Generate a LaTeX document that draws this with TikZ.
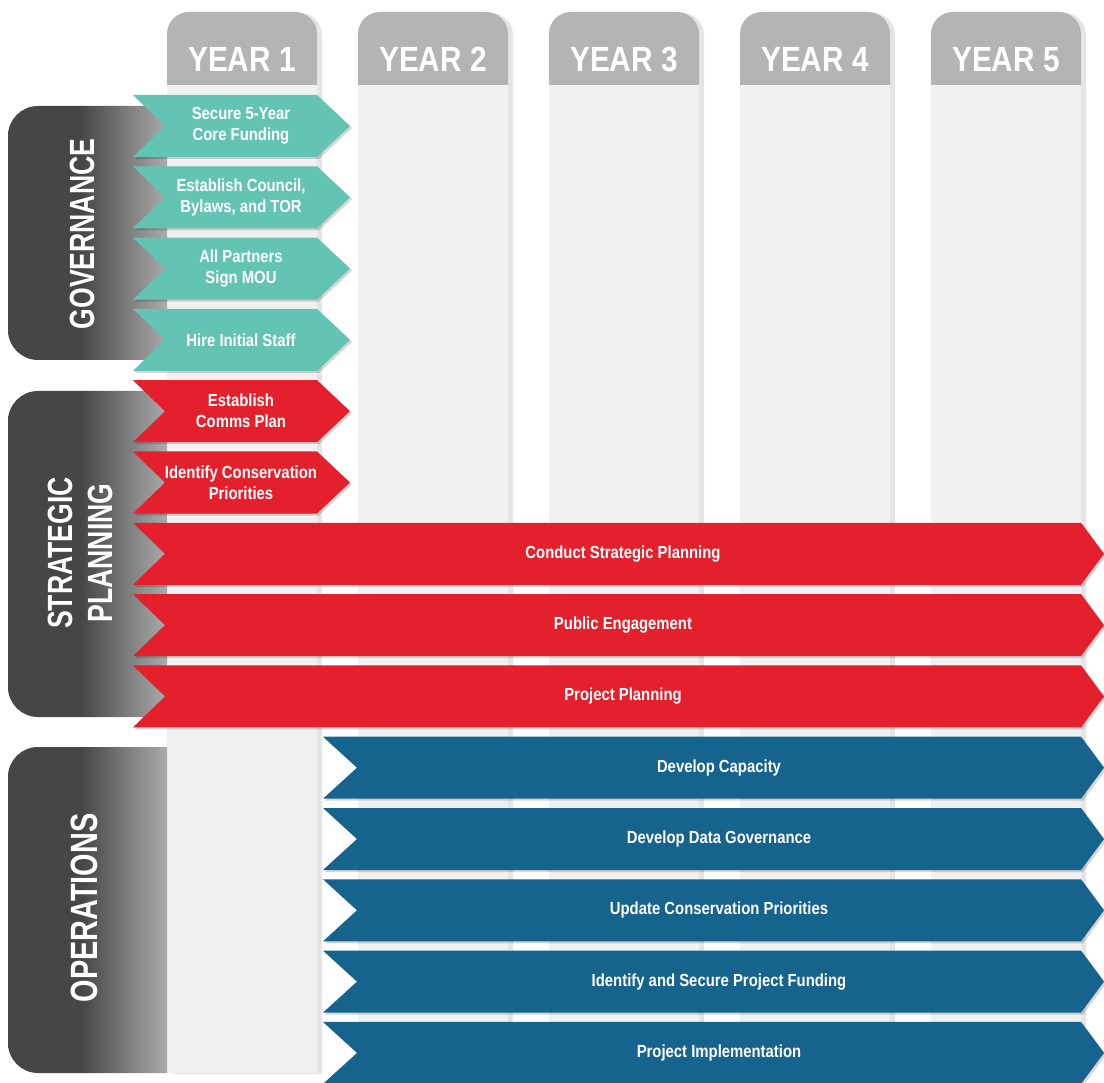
\documentclass[tikz,border=0pt]{standalone}
\usepackage{fontspec}
\setmainfont{Liberation Sans}
\newfontfamily\hdrfont{Liberation Sans}[FakeStretch=0.85]
\newfontfamily\sidefont{Liberation Sans}[FakeStretch=0.76]
\newfontfamily\lblfont{Liberation Sans}[FakeStretch=0.85]
\usetikzlibrary{shadows}
\definecolor{teal1}{RGB}{99,196,179}
\definecolor{red1}{RGB}{228,32,44}
\definecolor{blue1}{RGB}{22,99,142}
\definecolor{hdrgray}{RGB}{180,180,180}
\definecolor{colbody}{RGB}{241,241,241}
\definecolor{sidedark}{RGB}{70,70,70}
\definecolor{sidelight}{RGB}{172,172,172}
\pgfdeclarehorizontalshading{sidegrad}{100bp}{color(0bp)=(sidedark); color(25bp)=(sidedark); color(48bp)=(sidedark); color(75bp)=(sidelight); color(100bp)=(sidelight)}
\tikzset{
  colshadow/.style={drop shadow={shadow xshift=5pt, shadow yshift=-1pt, opacity=0.10, fill=black}},
  chevshadow/.style={drop shadow={shadow xshift=2pt, shadow yshift=-2pt, opacity=0.16, fill=black}},
  hdrtext/.style={text=white, font=\hdrfont\bfseries\fontsize{35}{40}\selectfont, anchor=base, inner sep=0pt},
  sidetext/.style={text=white, rotate=90, align=center, inner sep=0pt},
  lbl/.style={text=white, align=center, inner sep=0pt, font=\lblfont\bfseries\fontsize{17.5}{21}\selectfont},
}
% #1 name, #2 left x, #3 notch depth, #4 body right x, #5 tip x, #6 top y, #7 colour, #8 text
\newcommand\chevbar[8]{%
  \fill[#7, chevshadow] (#2,#6) -- (#4,#6) -- (#5,#6+31) -- (#4,#6+62) -- (#2,#6+62) -- (#2+#3,#6+31) -- cycle;
  \node[lbl] (#1) at ({(#2+#3+#4)/2},#6+31) {#8};%
}
\begin{document}
\begin{tikzpicture}[x=1pt, y=-1pt]
\useasboundingbox[fill=white] (0,0) rectangle (1104,1083);
% year columns
\foreach \i in {1,...,5}{
  \pgfmathsetmacro\xa{167+191*(\i-1)}
  \pgfmathsetmacro\xb{\xa+150}
  \fill[colbody, colshadow, rounded corners=22pt] (\xa,1073) -- (\xa,12) -- (\xb,12) -- (\xb,1073);
  \fill[hdrgray, rounded corners=22pt] (\xa,85) -- (\xa,12) -- (\xb,12) -- (\xb,85);
  \node[hdrtext] (y\i) at ({\xa+75},72) {YEAR \i};
}
% side boxes
\shade[shading=sidegrad, rounded corners=30pt] (167,106) -- (8,106) -- (8,360) -- (167,360);
\shade[shading=sidegrad, rounded corners=30pt] (167,391) -- (8,391) -- (8,717) -- (167,717);
\shade[shading=sidegrad, rounded corners=30pt] (167,747) -- (8,747) -- (8,1073) -- (167,1073);
\node[sidetext, font=\sidefont\bfseries\fontsize{35}{40}\selectfont] (gov) at (82,234) {GOVERNANCE};
\node[sidetext, font=\sidefont\bfseries\fontsize{35}{40}\selectfont] (stp) at (80,553) {STRATEGIC\\PLANNING};
\node[sidetext, font=\sidefont\bfseries\fontsize{38}{44}\selectfont] (ops) at (84,908) {OPERATIONS};
% governance
\chevbar{g1}{133}{32}{317}{350}{95}{teal1}{Secure 5-Year\\Core Funding}
\chevbar{g2}{133}{32}{317}{350}{166.3}{teal1}{Establish Council,\\Bylaws, and TOR}
\chevbar{g3}{133}{32}{317}{350}{237.6}{teal1}{All Partners\\Sign MOU}
\chevbar{g4}{133}{32}{317}{350}{308.9}{teal1}{Hire Initial Staff}
% strategic planning
\chevbar{s1}{133}{32}{317}{350}{380.2}{red1}{Establish\\Comms Plan}
\chevbar{s2}{133}{32}{317}{350}{451.5}{red1}{Identify Conservation\\Priorities}
\chevbar{s3}{133}{32}{1081}{1104}{522.8}{red1}{Conduct Strategic Planning}
\chevbar{s4}{133}{32}{1081}{1104}{594.1}{red1}{Public Engagement}
\chevbar{s5}{133}{32}{1081}{1104}{665.4}{red1}{Project Planning}
% operations
\chevbar{o1}{323}{34}{1081}{1104}{736.7}{blue1}{Develop Capacity}
\chevbar{o2}{323}{34}{1081}{1104}{808}{blue1}{Develop Data Governance}
\chevbar{o3}{323}{34}{1081}{1104}{879.3}{blue1}{Update Conservation Priorities}
\chevbar{o4}{323}{34}{1081}{1104}{950.6}{blue1}{Identify and Secure Project Funding}
\chevbar{o5}{323}{34}{1081}{1104}{1021.9}{blue1}{Project Implementation}
\end{tikzpicture}
\end{document}
